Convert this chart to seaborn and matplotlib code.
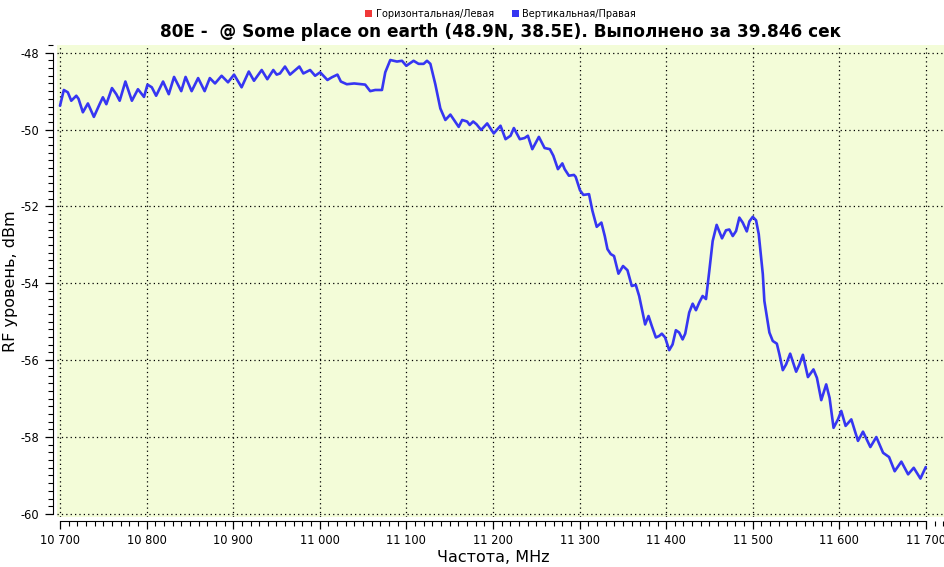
import seaborn as sns
import matplotlib
matplotlib.use("Agg")
import matplotlib.pyplot as plt
from matplotlib.patches import Patch
from matplotlib.ticker import MultipleLocator, FuncFormatter
import pandas as pd

#### data
freq = [10700, 10704.4, 10709, 10713, 10718.8, 10721.4, 10726.4, 10732.2, 10739.1, 10745.7,
        10749.5, 10753.5, 10760, 10765, 10768.9, 10775.5, 10783, 10790, 10797, 10801,
        10806, 10811, 10819, 10825.6, 10831.7, 10840, 10845, 10852, 10859.5, 10867,
        10873, 10879, 10886.6, 10894, 10901, 10909.7, 10918,
        10924, 10932.9, 10939.4, 10946.3, 10950.2, 10954, 10959.8, 10965.6, 10976.4, 10981,
        10988.8, 10994.6, 11000.4, 11008.8, 11013.9, 11020.4, 11024.3, 11031.2, 11039.7, 11052.4,
        11058.2, 11064, 11071.8, 11075.6, 11081.4, 11089.1, 11094.9, 11099.9, 11108.3, 11114.1,
        11119.9, 11123.8, 11127.7, 11133.4,
        11139.2, 11145, 11150.8, 11160.4, 11164.4, 11170.1, 11173.1, 11177.1, 11180.9, 11186.3,
        11193.3, 11200.9, 11208.7, 11214.5, 11220.3, 11224.1, 11231, 11236.5, 11240.3, 11245.4,
        11253, 11259.6, 11265.7, 11269.7, 11275, 11280.1, 11282.8, 11287.7, 11293.5, 11295.5,
        11300.5, 11304.4, 11310.9, 11314.8, 11319.8, 11325.2, 11329.1,
        11332.2, 11336, 11339.8, 11344.9, 11350.2, 11355.3, 11360.3, 11364.9, 11368.8, 11375.7,
        11379.6, 11383.4, 11388.1, 11391.9, 11395, 11398.8, 11403.5, 11407.4, 11411.2, 11415,
        11419, 11422, 11426.6, 11430.6, 11434.4, 11438.2, 11442.1, 11446, 11449.8, 11453.7,
        11458.3, 11464.5, 11469.1, 11472.9, 11476.9, 11480.7, 11484.5, 11488.4, 11493.1, 11496.1,
        11500, 11503.8, 11506.9, 11511.6,
        11513.4, 11519.2, 11523.1, 11527.8, 11530.8, 11534.7, 11538.5, 11543.2, 11547, 11550.1,
        11553.9, 11557.9, 11563.7, 11570.1, 11574.1, 11579.1, 11584.8, 11588.7, 11593.3, 11598.4,
        11602.2, 11607.2, 11613.8, 11621.5, 11627.3, 11635.8, 11642.7, 11650.5, 11657.4, 11663.9,
        11671.6, 11679.4, 11685.9, 11693.6, 11699.8]

level = [-49.38, -48.97, -49.03, -49.25, -49.12, -49.2, -49.55, -49.32, -49.67, -49.34,
         -49.16, -49.34, -48.92, -49.08, -49.25, -48.75, -49.25, -48.95, -49.15, -48.83,
         -48.9, -49.12, -48.75, -49.08, -48.63, -49.0, -48.63, -49.0, -48.66, -49.0,
         -48.66, -48.8, -48.6, -48.77, -48.57, -48.9, -48.49,
         -48.73, -48.45, -48.69, -48.45, -48.57, -48.54, -48.36, -48.57, -48.36, -48.54,
         -48.45, -48.6, -48.51, -48.71, -48.64, -48.57, -48.75, -48.82, -48.8, -48.83,
         -49.0, -48.97, -48.97, -48.51, -48.19, -48.23, -48.21, -48.34, -48.21, -48.29,
         -48.29, -48.21, -48.29, -48.82,
         -49.45, -49.75, -49.61, -49.93, -49.75, -49.79, -49.88, -49.79, -49.86, -50.01,
         -49.84, -50.1, -49.9, -50.25, -50.16, -49.96, -50.25, -50.22, -50.16, -50.51,
         -50.19, -50.48, -50.51, -50.68, -51.03, -50.88, -51.03, -51.2, -51.18, -51.23,
         -51.58, -51.7, -51.68, -52.11, -52.53, -52.42, -52.77,
         -53.11, -53.24, -53.29, -53.75, -53.55, -53.66, -54.07, -54.04, -54.33, -55.07,
         -54.85, -55.11, -55.41, -55.37, -55.31, -55.41, -55.74, -55.59, -55.22, -55.28,
         -55.46, -55.31, -54.76, -54.53, -54.7, -54.5, -54.33, -54.41, -53.68, -52.9,
         -52.48, -52.83, -52.62, -52.6, -52.77, -52.64, -52.29, -52.42, -52.65, -52.39,
         -52.27, -52.36, -52.72, -53.76,
         -54.46, -55.28, -55.5, -55.57, -55.85, -56.26, -56.11, -55.83, -56.09, -56.3,
         -56.11, -55.86, -56.44, -56.24, -56.46, -57.04, -56.63, -56.98, -57.76, -57.54,
         -57.32, -57.71, -57.54, -58.1, -57.86, -58.26, -58.0, -58.41, -58.52, -58.89,
         -58.64, -58.97, -58.8, -59.08, -58.78]

legend_labels = ["Горизонтальная/Левая", "Вертикальная/Правая"]
legend_colors = ["#f03838", "#3636f2"]
title = "80E -  @ Some place on earth (48.9N, 38.5E). Выполнено за 39.846 сек"
##################

sns.set_style("ticks")
plt.rcParams['font.family'] = ['DejaVu Sans']
plt.rcParams['text.color'] = 'black'
plt.rcParams['axes.labelcolor'] = 'black'

df = pd.DataFrame({"freq": freq, "level": level})

fig = plt.figure(figsize=(9.45, 5.67), dpi=100)
ax = fig.add_axes([0.0603, 0.0882, 0.9397, 0.8324])
ax.set_facecolor("#f3fcd8")

sns.lineplot(data=df, x="freq", y="level", ax=ax, color=legend_colors[1],
             linewidth=1.9, estimator=None, sort=False)

ax.set_xlim(10696.5, 11722)
ax.set_ylim(-60.08, -47.8)

ax.xaxis.set_major_locator(MultipleLocator(100))
ax.xaxis.set_minor_locator(MultipleLocator(10))
ax.yaxis.set_major_locator(MultipleLocator(2))
ax.yaxis.set_minor_locator(MultipleLocator(0.2))
ax.xaxis.set_major_formatter(FuncFormatter(lambda v, p: "{:,.0f}".format(v).replace(",", " ")))
ax.yaxis.set_major_formatter(FuncFormatter(lambda v, p: "{:.0f}".format(v)))

ax.grid(True, which="major", color="black", linestyle=(0, (1, 2.5)), linewidth=0.9)

for s in ["top", "right"]:
    ax.spines[s].set_visible(False)
ax.spines["left"].set_position(("outward", 3))
ax.spines["bottom"].set_position(("outward", 3))
ax.spines["left"].set_bounds(-60, -48)
ax.spines["bottom"].set_bounds(10700, 11700)
ax.spines["left"].set_color("black")
ax.spines["bottom"].set_color("black")

ax.tick_params(which="major", length=6, width=0.9, labelsize=8.3, colors="black")
ax.tick_params(which="minor", length=3.5, width=0.8, colors="black")

ax.set_xlabel("Частота, MHz", fontsize=11.5)
ax.xaxis.set_label_coords(0.491, -0.07)
ax.set_ylabel("RF уровень, dBm", fontsize=11.5, labelpad=2)
ax.set_title(title, fontsize=12.2, fontweight="bold", pad=6, color="black")

handles = [Patch(facecolor=c, edgecolor="none") for c in legend_colors]
fig.legend(handles, legend_labels, loc="upper center", bbox_to_anchor=(0.53, 1.0),
           ncol=2, frameon=False, fontsize=7, handlelength=0.7, handleheight=0.7,
           handletextpad=0.4, columnspacing=1.8)

fig.savefig("out.png", dpi=100)
